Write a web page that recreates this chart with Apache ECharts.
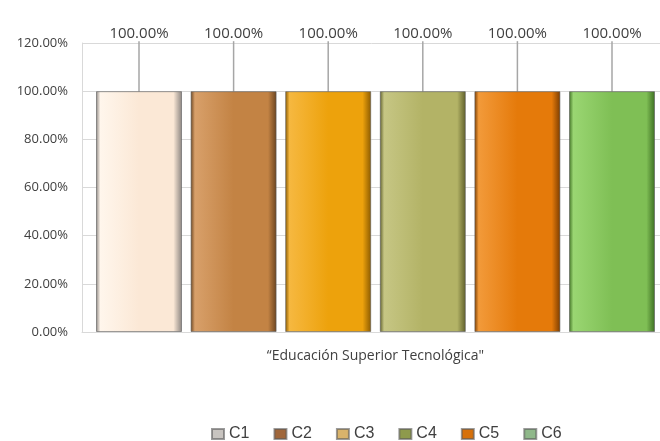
<!DOCTYPE html>
<html><head><meta charset="utf-8">
<script src="https://cdn.jsdelivr.net/npm/echarts@6/dist/echarts.min.js"></script>
<style>html,body{margin:0;padding:0;background:#fff}#c{width:660px;height:441px}</style>
</head><body><div id="c"></div>
<script>
const categories = ['\u201cEducación Superior Tecnológica"'];
const seriesNames = ['C1','C2','C3','C4','C5','C6'];
const values = [1.0, 1.0, 1.0, 1.0, 1.0, 1.0];
const yTicks = [0, 0.2, 0.4, 0.6, 0.8, 1.0, 1.2];
const colors = [
  ['#fff6ec','#fbe8d6','#8a8480'],
  ['#d8a06a','#c38344','#6a4420'],
  ['#f6b840','#eda20c','#8a5a00'],
  ['#c6c684','#b3b366','#5e5e2a'],
  ['#f29a3a','#e57a0a','#7a3c00'],
  ['#9ad672','#7fbf55','#3d6e22']
];
const legendColors = ['#c8c4c0','#a0663a','#d9b36b','#8e9a4c','#d6700a','#8fb88a'];
const font = '"Open Sans", Lato, sans-serif';
const chart = echarts.init(document.getElementById('c'));
const series = seriesNames.map((n, i) => ({
  name: n,
  type: 'bar',
  data: [values[i]],
  barWidth: 86,
  barGap: '10%',
  itemStyle: {
    color: new echarts.graphic.LinearGradient(0, 0, 1, 0, [
      {offset: 0, color: colors[i][2]},
      {offset: 0.05, color: colors[i][0]},
      {offset: 0.5, color: colors[i][1]},
      {offset: 0.9, color: colors[i][1]},
      {offset: 1, color: colors[i][2]}
    ]),
    borderColor: 'rgba(90,90,90,0.6)',
    borderWidth: 1
  },
  label: {
    show: true, position: 'top', distance: 4,
    formatter: p => (p.value * 100).toFixed(2) + '%',
    fontFamily: font, fontSize: 15, color: '#404040'
  },
  labelLayout: {dy: -46},
  labelLine: {show: true, lineStyle: {color: '#a6a6a6', width: 1.5}}
}));
chart.setOption({
  animation: false,
  backgroundColor: '#ffffff',
  grid: {left: 82, width: 587, top: 43, bottom: 109, containLabel: false, outerBoundsMode: 'none'},
  legend: {
    top: 421, left: 206, itemWidth: 12, itemHeight: 10, itemGap: 24,
    icon: 'rect',
    textStyle: {fontFamily: 'Liberation Sans, sans-serif', fontSize: 16, color: '#404040'},
    data: seriesNames.map((n, i) => ({name: n, itemStyle: {color: legendColors[i]}}))
  },
  xAxis: {
    type: 'category', data: categories,
    axisLine: {lineStyle: {color: '#d9d9d9', width: 1}},
    axisTick: {show: false},
    axisLabel: {fontFamily: font, fontSize: 14, color: '#404040', margin: 17}
  },
  yAxis: {
    type: 'value', min: 0, max: 1.2, interval: 0.2,
    axisLine: {show: true, lineStyle: {color: '#d9d9d9'}},
    axisTick: {show: false},
    splitLine: {lineStyle: {color: '#d9d9d9'}},
    axisLabel: {
      fontFamily: font, fontSize: 13, color: '#404040', margin: 14,
      formatter: v => (v * 100).toFixed(2) + '%'
    }
  },
  series: series
});
</script></body></html>
